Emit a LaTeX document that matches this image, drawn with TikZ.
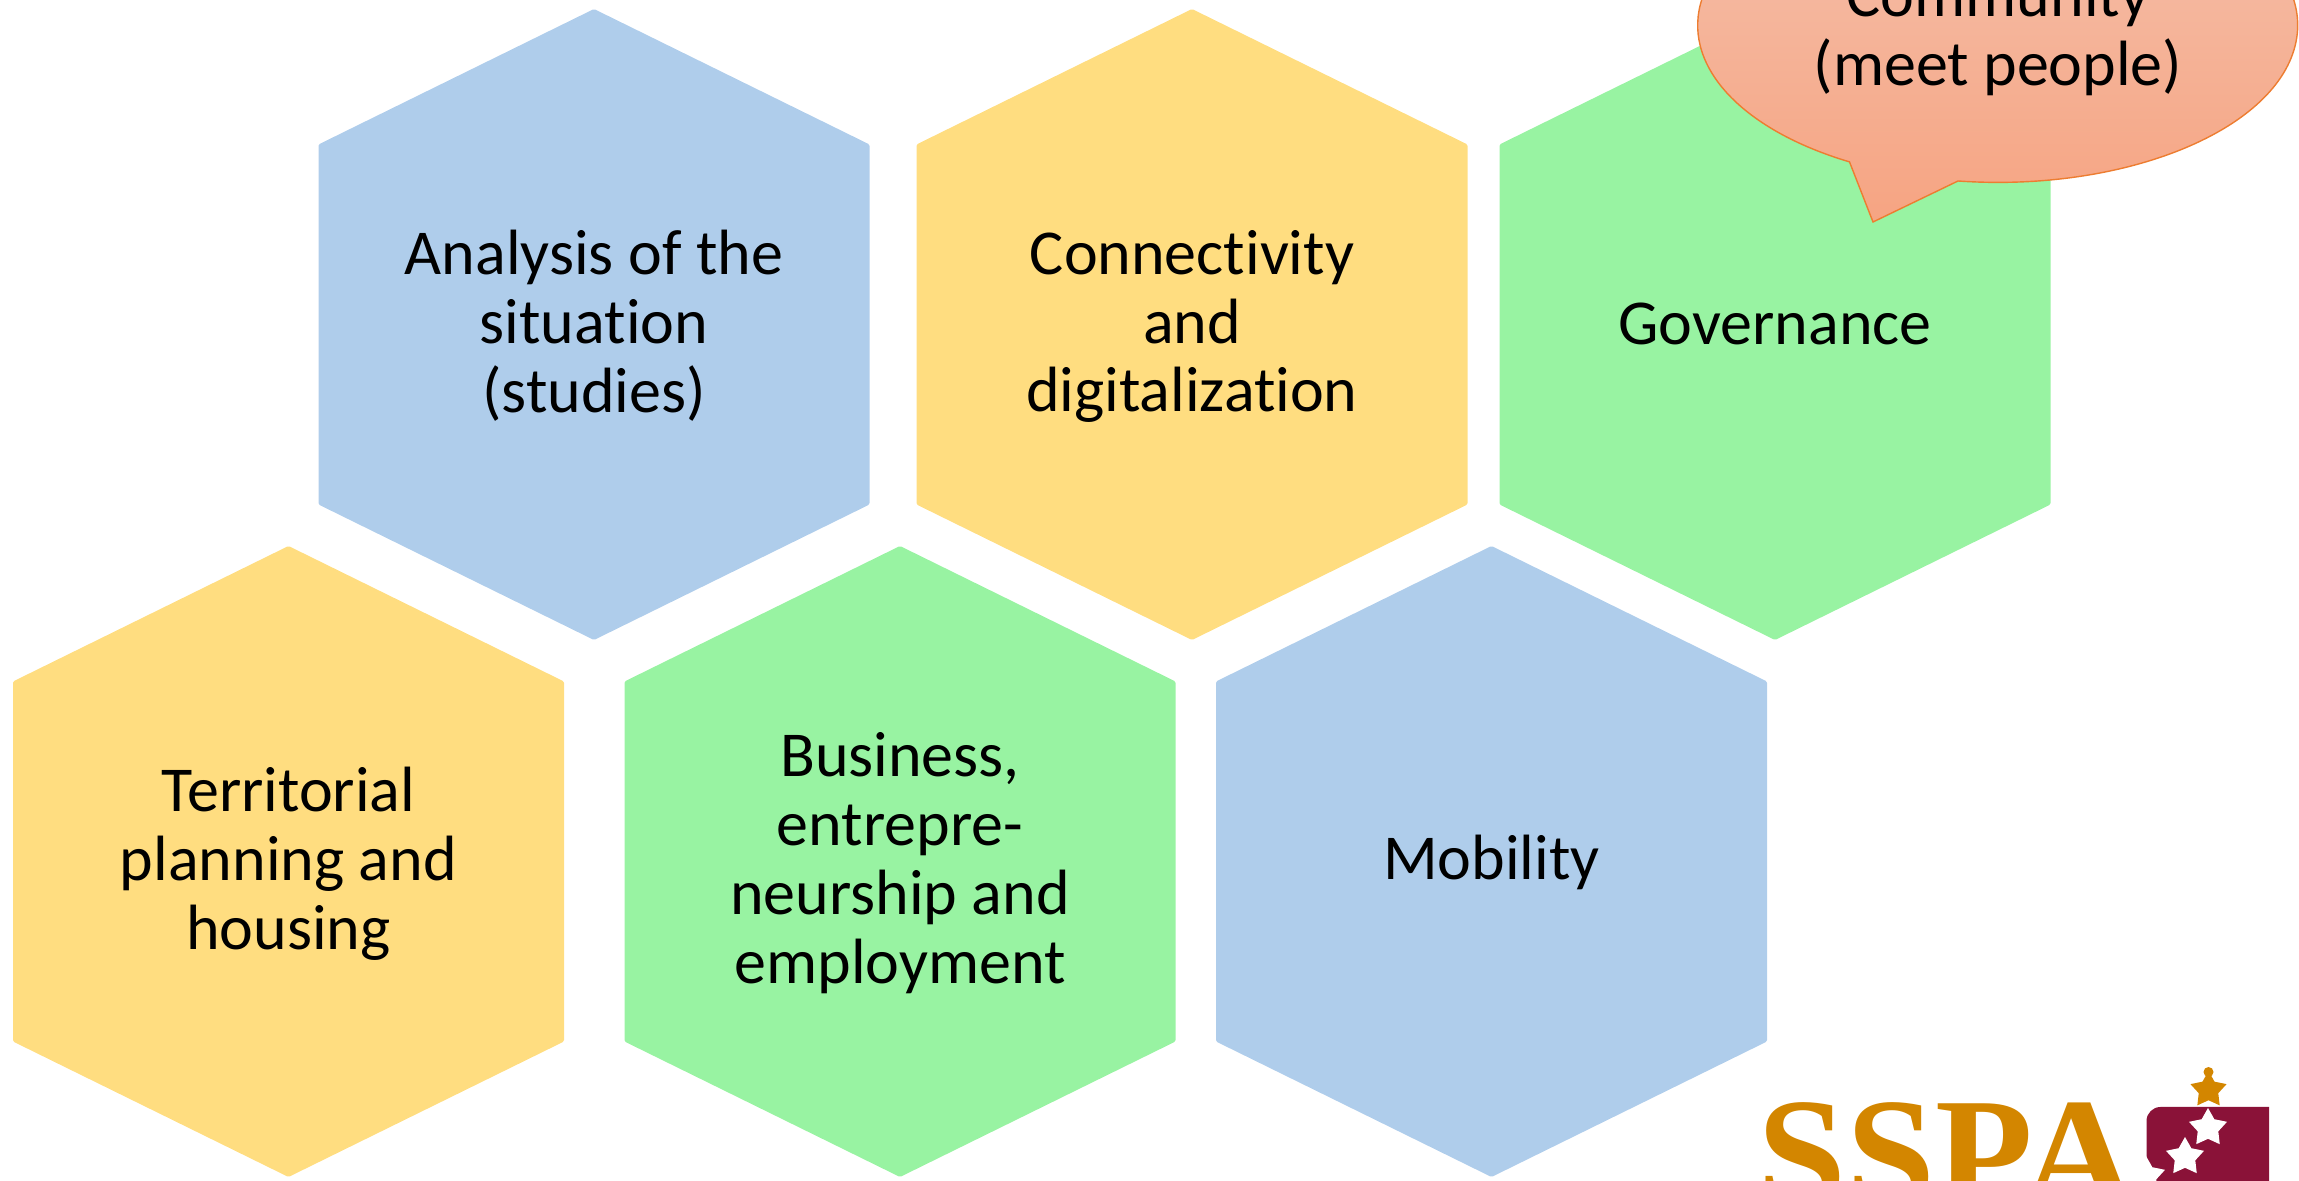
\documentclass[tikz,border=0pt]{standalone}
\usepackage{fontspec}
\setmainfont[RawFeature={-liga}]{Carlito}
\newfontfamily\logofont{Liberation Serif}
\usetikzlibrary{shapes.geometric}
\definecolor{hexblue}{HTML}{AFCDEB}
\definecolor{hexyellow}{HTML}{FFDD80}
\definecolor{hexgreen}{HTML}{98F3A2}
\definecolor{logogold}{HTML}{D38600}
\definecolor{logored}{HTML}{8A1238}
\definecolor{bubbletop}{HTML}{F4C2AE}
\definecolor{bubblelow}{HTML}{F6A482}
\definecolor{bubbleline}{HTML}{ED7D31}
\tikzset{
	hextext/.style={align=center,font=\fontsize{18.2}{19.6}\selectfont,inner sep=0pt},
	logostar/.style={star,star points=5,star point ratio=1.85,minimum size=40*0.2844pt,inner sep=0pt,fill=white},
}
\newcommand{\hexcell}[6]{
	\fill[#4,rounded corners=0.4pt] (#2,#3-315.5) -- (#2+275.5,#3-180) -- (#2+275.5,#3+180) -- (#2,#3+315.5) -- (#2-275.5,#3+180) -- (#2-275.5,#3-180) -- cycle;
	\node[hextext] (#1) at (#2,#3+#5) {#6};
}
\begin{document}
\begin{tikzpicture}[x=0.2844pt,y=-0.2844pt]
	\useasboundingbox (0,0) rectangle (2299,1181);
	\hexcell{analysis}{594}{324.5}{hexblue}{1}{Analysis of the\\situation\\(studies)}
	\hexcell{connect}{1192}{324.5}{hexyellow}{2}{Connectivity\\and\\digitalization}
	\hexcell{govern}{1775}{324.5}{hexgreen}{-1}{Governance}
	\hexcell{housing}{288.5}{861.5}{hexyellow}{2}{Territorial\\planning and\\housing}
	\hexcell{business}{900}{861.5}{hexgreen}{2}{Business,\\entrepre-\\neurship and\\employment}
	\hexcell{mobility}{1491.5}{861.5}{hexblue}{1}{Mobility}
	% speech bubble
	\draw[draw=bubbleline,line width=0.4pt,top color=bubbletop,bottom color=bubblelow] (1958,181) arc[start angle=97.6,end angle=-240.4,x radius=300,y radius=157] -- (1873,222) -- cycle;
	\node[hextext] (community) at (1998,34) {Community\\(meet people)};
	% logo
	\node[anchor=base west,inner sep=0pt,text=logogold,font=\fontsize{45.5}{45.5}\logofont\bfseries\selectfont] (sspa) at (1757,1209) {SSPA};
	\fill[logored] (2146.5,1190) -- (2146.5,1121) arc[start angle=180,end angle=270,radius=14] -- (2269,1107) -- (2269,1190) -- cycle;
	\node[logostar] (star1) at (2208,1128) {};
	\node[logostar] (star2) at (2185,1157) {};
	\node[logostar] (star3) at (2146,1176) {};
	\node[logostar,fill=logogold,minimum size=38*0.2844pt] (star0) at (2208.5,1090) {};
	\fill[logogold] (2208.5,1072) circle[radius=5];
\end{tikzpicture}
\end{document}
